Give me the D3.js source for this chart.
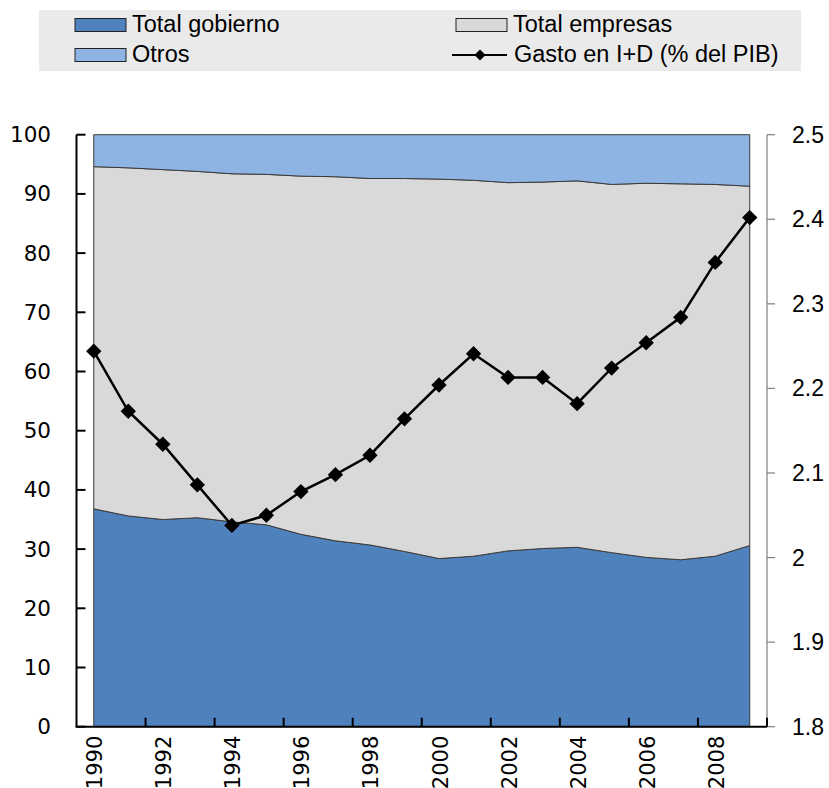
<!DOCTYPE html>
<html>
<head>
<meta charset="utf-8">
<script src="https://cdnjs.cloudflare.com/ajax/libs/d3/7.8.5/d3.min.js"></script>
<style>
  body { margin: 0; background: #fff; }
  .tick-label { font-family: 'DejaVu Sans', Verdana, sans-serif; fill: #000; }
  .legend-text, .right-label { font-family: 'Liberation Sans', Arial, sans-serif; fill: #000; }
</style>
</head>
<body>
<div id="chart-holder"></div>
<script>
// data
var years = [1990, 1991, 1992, 1993, 1994, 1995, 1996, 1997, 1998, 1999,
             2000, 2001, 2002, 2003, 2004, 2005, 2006, 2007, 2008, 2009];
var gobierno = [36.8, 35.6, 35.0, 35.3, 34.6, 34.1, 32.5, 31.4, 30.7, 29.6,
                28.4, 28.8, 29.7, 30.1, 30.3, 29.4, 28.6, 28.2, 28.8, 30.6];
var empresas = [57.8, 58.8, 59.1, 58.5, 58.8, 59.2, 60.5, 61.5, 61.9, 63.0,
                64.1, 63.5, 62.2, 61.9, 61.9, 62.2, 63.2, 63.5, 62.8, 60.7];
var otros = [5.4, 5.6, 5.9, 6.2, 6.6, 6.7, 7.0, 7.1, 7.4, 7.4,
             7.5, 7.7, 8.1, 8.0, 7.8, 8.4, 8.2, 8.3, 8.4, 8.7];
var gasto = [2.244, 2.173, 2.134, 2.086, 2.038, 2.050, 2.078, 2.098, 2.121, 2.164,
             2.204, 2.241, 2.213, 2.213, 2.182, 2.224, 2.254, 2.284, 2.349, 2.402];
var leftTicks = [0, 10, 20, 30, 40, 50, 60, 70, 80, 90, 100];
var rightTicks = [1.8, 1.9, 2, 2.1, 2.2, 2.3, 2.4, 2.5];
var yearLabels = [1990, 1992, 1994, 1996, 1998, 2000, 2002, 2004, 2006, 2008];

var seriesNames = ['Total gobierno', 'Total empresas', 'Otros'];
var seriesColors = ['#4F81BD', '#D9D9D9', '#8EB4E3'];

function buildChart(containerId) {
    var width = 829;
    var height = 788;

    var svg = d3
        .select(containerId)
        .append('svg')
        .attr('width', width)
        .attr('height', height);

    // axis frame
    var axisLeftX = 76.5;
    var axisRightX = 767;
    var top = 134.7;
    var bottom = 726.7;

    // scales
    var x = d3.scaleLinear().domain([1989.5, 2009.5]).range([axisLeftX, axisRightX]);
    var y = d3.scaleLinear().domain([0, 100]).range([bottom, top]);
    var y2 = d3.scaleLinear().domain([1.8, 2.5]).range([bottom, top]);

    // stacked table
    var table = years.map(function(yr, i) {
        return { year: yr, 'Total gobierno': gobierno[i], 'Total empresas': empresas[i], 'Otros': otros[i] };
    });
    var stacked = d3.stack().keys(seriesNames)(table);

    var area = d3.area()
        .x(function(d) { return x(d.data.year); })
        .y0(function(d) { return y(d[0]); })
        .y1(function(d) { return y(d[1]); });

    svg.selectAll('.area')
        .data(stacked)
        .enter()
        .append('path')
        .attr('class', 'area')
        .attr('d', area)
        .attr('fill', function(d, i) { return seriesColors[i]; })
        .attr('stroke', '#3a3a3a')
        .attr('stroke-width', 1);

    // left axis
    var gl = svg.append('g').attr('class', 'y-axis');
    gl.append('line')
        .attr('x1', axisLeftX).attr('x2', axisLeftX)
        .attr('y1', top).attr('y2', bottom)
        .attr('stroke', '#000').attr('stroke-width', 2);
    gl.selectAll('.tk')
        .data(leftTicks)
        .enter()
        .append('line')
        .attr('x1', axisLeftX).attr('x2', axisLeftX + 9)
        .attr('y1', function(d) { return y(d); })
        .attr('y2', function(d) { return y(d); })
        .attr('stroke', '#000').attr('stroke-width', 2);
    gl.selectAll('text')
        .data(leftTicks)
        .enter()
        .append('text')
        .attr('class', 'tick-label')
        .attr('x', 51)
        .attr('y', function(d) { return y(d); })
        .attr('text-anchor', 'end')
        .attr('dominant-baseline', 'central')
        .style('font-size', '21.5px')
        .text(function(d) { return d; });

    // right axis
    var gr = svg.append('g').attr('class', 'y2-axis');
    gr.append('line')
        .attr('x1', axisRightX).attr('x2', axisRightX)
        .attr('y1', top).attr('y2', bottom)
        .attr('stroke', '#7f7f7f').attr('stroke-width', 1.2);
    gr.selectAll('.tk')
        .data(rightTicks)
        .enter()
        .append('line')
        .attr('x1', axisRightX).attr('x2', axisRightX + 8)
        .attr('y1', function(d) { return y2(d); })
        .attr('y2', function(d) { return y2(d); })
        .attr('stroke', '#7f7f7f').attr('stroke-width', 1.2);
    gr.selectAll('text')
        .data(rightTicks)
        .enter()
        .append('text')
        .attr('class', 'right-label')
        .attr('x', 792)
        .attr('y', function(d) { return y2(d); })
        .attr('dominant-baseline', 'central')
        .style('font-size', '23px')
        .text(function(d) { return d; });

    // bottom axis
    var gb = svg.append('g').attr('class', 'x-axis');
    gb.append('line')
        .attr('x1', axisLeftX - 1).attr('x2', axisRightX)
        .attr('y1', bottom).attr('y2', bottom)
        .attr('stroke', '#000').attr('stroke-width', 2);
    gb.selectAll('.tk')
        .data(yearLabels.slice(1).concat([2010]))
        .enter()
        .append('line')
        .attr('x1', function(d) { return x(d - 0.5); })
        .attr('x2', function(d) { return x(d - 0.5); })
        .attr('y1', bottom).attr('y2', bottom - 9)
        .attr('stroke', '#000').attr('stroke-width', 2);
    gb.selectAll('text')
        .data(yearLabels)
        .enter()
        .append('text')
        .attr('class', 'tick-label')
        .attr('transform', function(d) { return 'translate(' + (x(d) + 1.5) + ',' + (bottom + 9) + ') rotate(-90)'; })
        .attr('text-anchor', 'end')
        .attr('dominant-baseline', 'central')
        .style('font-size', '21px')
        .text(function(d) { return d; });

    // line series on the right scale
    var line = d3.line()
        .x(function(d, i) { return x(years[i]); })
        .y(function(d) { return y2(d); });

    svg.append('path')
        .datum(gasto)
        .attr('d', line)
        .attr('fill', 'none')
        .attr('stroke', '#000')
        .attr('stroke-width', 2.5);

    var diamond = d3.symbol().type(d3.symbolDiamond2).size(150);
    svg.selectAll('.marker')
        .data(gasto)
        .enter()
        .append('path')
        .attr('class', 'marker')
        .attr('d', diamond)
        .attr('transform', function(d, i) { return 'translate(' + x(years[i]) + ',' + y2(d) + ')'; })
        .attr('fill', '#000');

    // legend
    var lg = svg.append('g').attr('class', 'legend');
    lg.append('rect')
        .attr('x', 39).attr('y', 10)
        .attr('width', 762).attr('height', 61)
        .attr('fill', '#EAEAEA');

    var legendItems = [
        { name: 'Total gobierno', color: seriesColors[0], x: 75, y: 18.5 },
        { name: 'Total empresas', color: seriesColors[1], x: 456, y: 18.5 },
        { name: 'Otros', color: seriesColors[2], x: 75, y: 48.5 }
    ];
    legendItems.forEach(function(it) {
        lg.append('rect')
            .attr('x', it.x).attr('y', it.y)
            .attr('width', 51).attr('height', 13)
            .attr('fill', it.color)
            .attr('stroke', '#222').attr('stroke-width', 1);
        lg.append('text')
            .attr('class', 'legend-text')
            .attr('x', it.x + 57)
            .attr('y', it.y + 13.5)
            .style('font-size', '23.5px')
            .text(it.name);
    });
    lg.append('line')
        .attr('x1', 452).attr('x2', 507)
        .attr('y1', 55).attr('y2', 55)
        .attr('stroke', '#000').attr('stroke-width', 2);
    lg.append('path')
        .attr('d', d3.symbol().type(d3.symbolDiamond2).size(80))
        .attr('transform', 'translate(480,55)')
        .attr('fill', '#000');
    lg.append('text')
        .attr('class', 'legend-text')
        .attr('x', 514)
        .attr('y', 62)
        .style('font-size', '23.5px')
        .text('Gasto en I+D (% del PIB)');
}

buildChart('#chart-holder');
</script>
</body>
</html>
